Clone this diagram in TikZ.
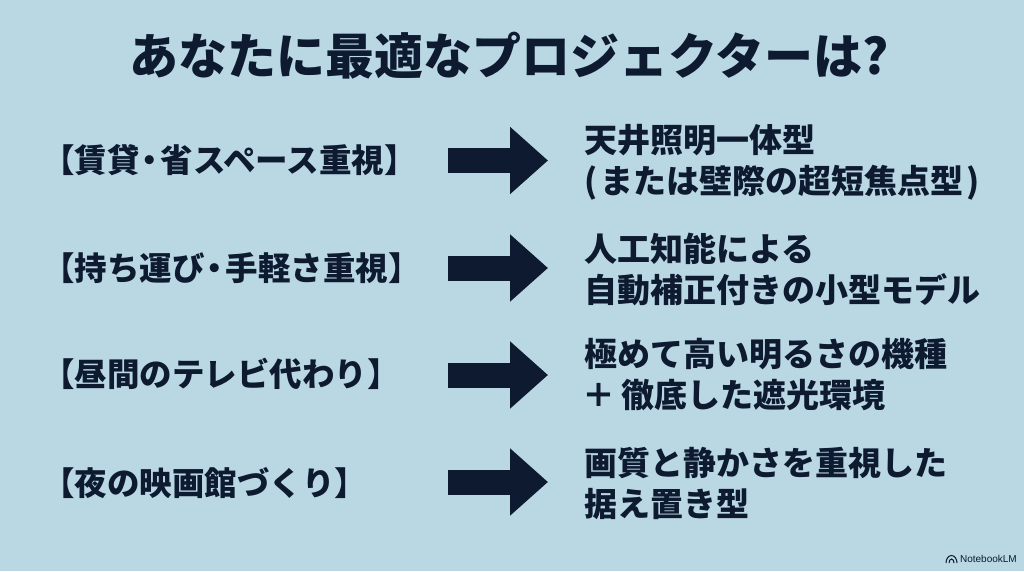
\documentclass[tikz,border=0pt]{standalone}
\usepackage{fontspec}
\setmainfont{Noto Sans CJK JP}[BoldFont={* Bold}]
\newfontfamily\titlefont{Noto Sans CJK JP Black}
\setsansfont{Liberation Sans}
\usetikzlibrary{arrows.meta}
\definecolor{bgblue}{HTML}{B9D8E4}
\definecolor{inkblue}{HTML}{0D1A30}
\newcommand{\nakaguro}{\kern-.18em・\kern-.18em}
\newcommand{\bigplus}{\char"FF0B\relax}
\tikzset{
 leftlabel/.style={anchor=west,font=\titlefont\fontsize{32.5pt}{36pt}\selectfont,text=inkblue,inner sep=0pt},
 rightlabel/.style={anchor=west,align=left,font=\titlefont\fontsize{33pt}{41pt}\selectfont,text=inkblue,inner sep=0pt},
 bigarrow/.style={draw=inkblue,line width=25pt,-{Triangle[length=38pt,width=65pt]}}
}
\begin{document}
\begin{tikzpicture}[x=1pt,y=-1pt]
 \useasboundingbox[fill=bgblue] (0,0) rectangle (1024,571);
 \node[font=\titlefont\fontsize{49pt}{50pt}\selectfont,text=inkblue,inner sep=0pt] (title) at (509,56) {あなたに最適なプロジェクターは?};

 \node[leftlabel] (L1) at (42,160) {【賃貸\nakaguro 省スペース重視】};
 \node[leftlabel] (L2) at (42,268) {【持ち運び\nakaguro 手軽さ重視】};
 \node[leftlabel] (L3) at (42,374) {【昼間のテレビ代わり】};
 \node[leftlabel] (L4) at (42,483) {【夜の映画館づくり】};

 \node[rightlabel] (R1) at (584,162) {天井照明一体型\\(\kern3pt または壁際の超短焦点型\kern3pt)};
 \node[rightlabel] (R2) at (584,269.5) {人工知能による\\自動補正付きの小型モデル};
 \node[rightlabel] (R3) at (584,375) {極めて高い明るさの機種\\\hspace*{-2pt}\bigplus\hspace*{6pt}徹底した遮光環境};
 \node[rightlabel] (R4) at (584,483) {画質と静かさを重視した\\据え置き型};

 \coordinate (A1s) at (448,160.5); \coordinate (A1e) at (548,160.5);
 \coordinate (A2s) at (448,268); \coordinate (A2e) at (548,268);
 \coordinate (A3s) at (448,375); \coordinate (A3e) at (548,375);
 \coordinate (A4s) at (448,482); \coordinate (A4e) at (548,482);
 \draw[bigarrow] (A1s) -- (A1e);
 \draw[bigarrow] (A2s) -- (A2e);
 \draw[bigarrow] (A3s) -- (A3e);
 \draw[bigarrow] (A4s) -- (A4e);

 \node[anchor=east,font=\sffamily\fontsize{10pt}{11pt}\selectfont,text=inkblue,inner sep=0pt] (mark) at (1017,559) {NotebookLM};
 % small logo in front of the name
 \draw[inkblue,line width=1pt] (946,563) arc[start angle=180,end angle=360,x radius=5.5,y radius=7.5];
 \draw[inkblue,line width=1pt] (949,563) arc[start angle=180,end angle=360,x radius=2.5,y radius=4];
\end{tikzpicture}
\end{document}
